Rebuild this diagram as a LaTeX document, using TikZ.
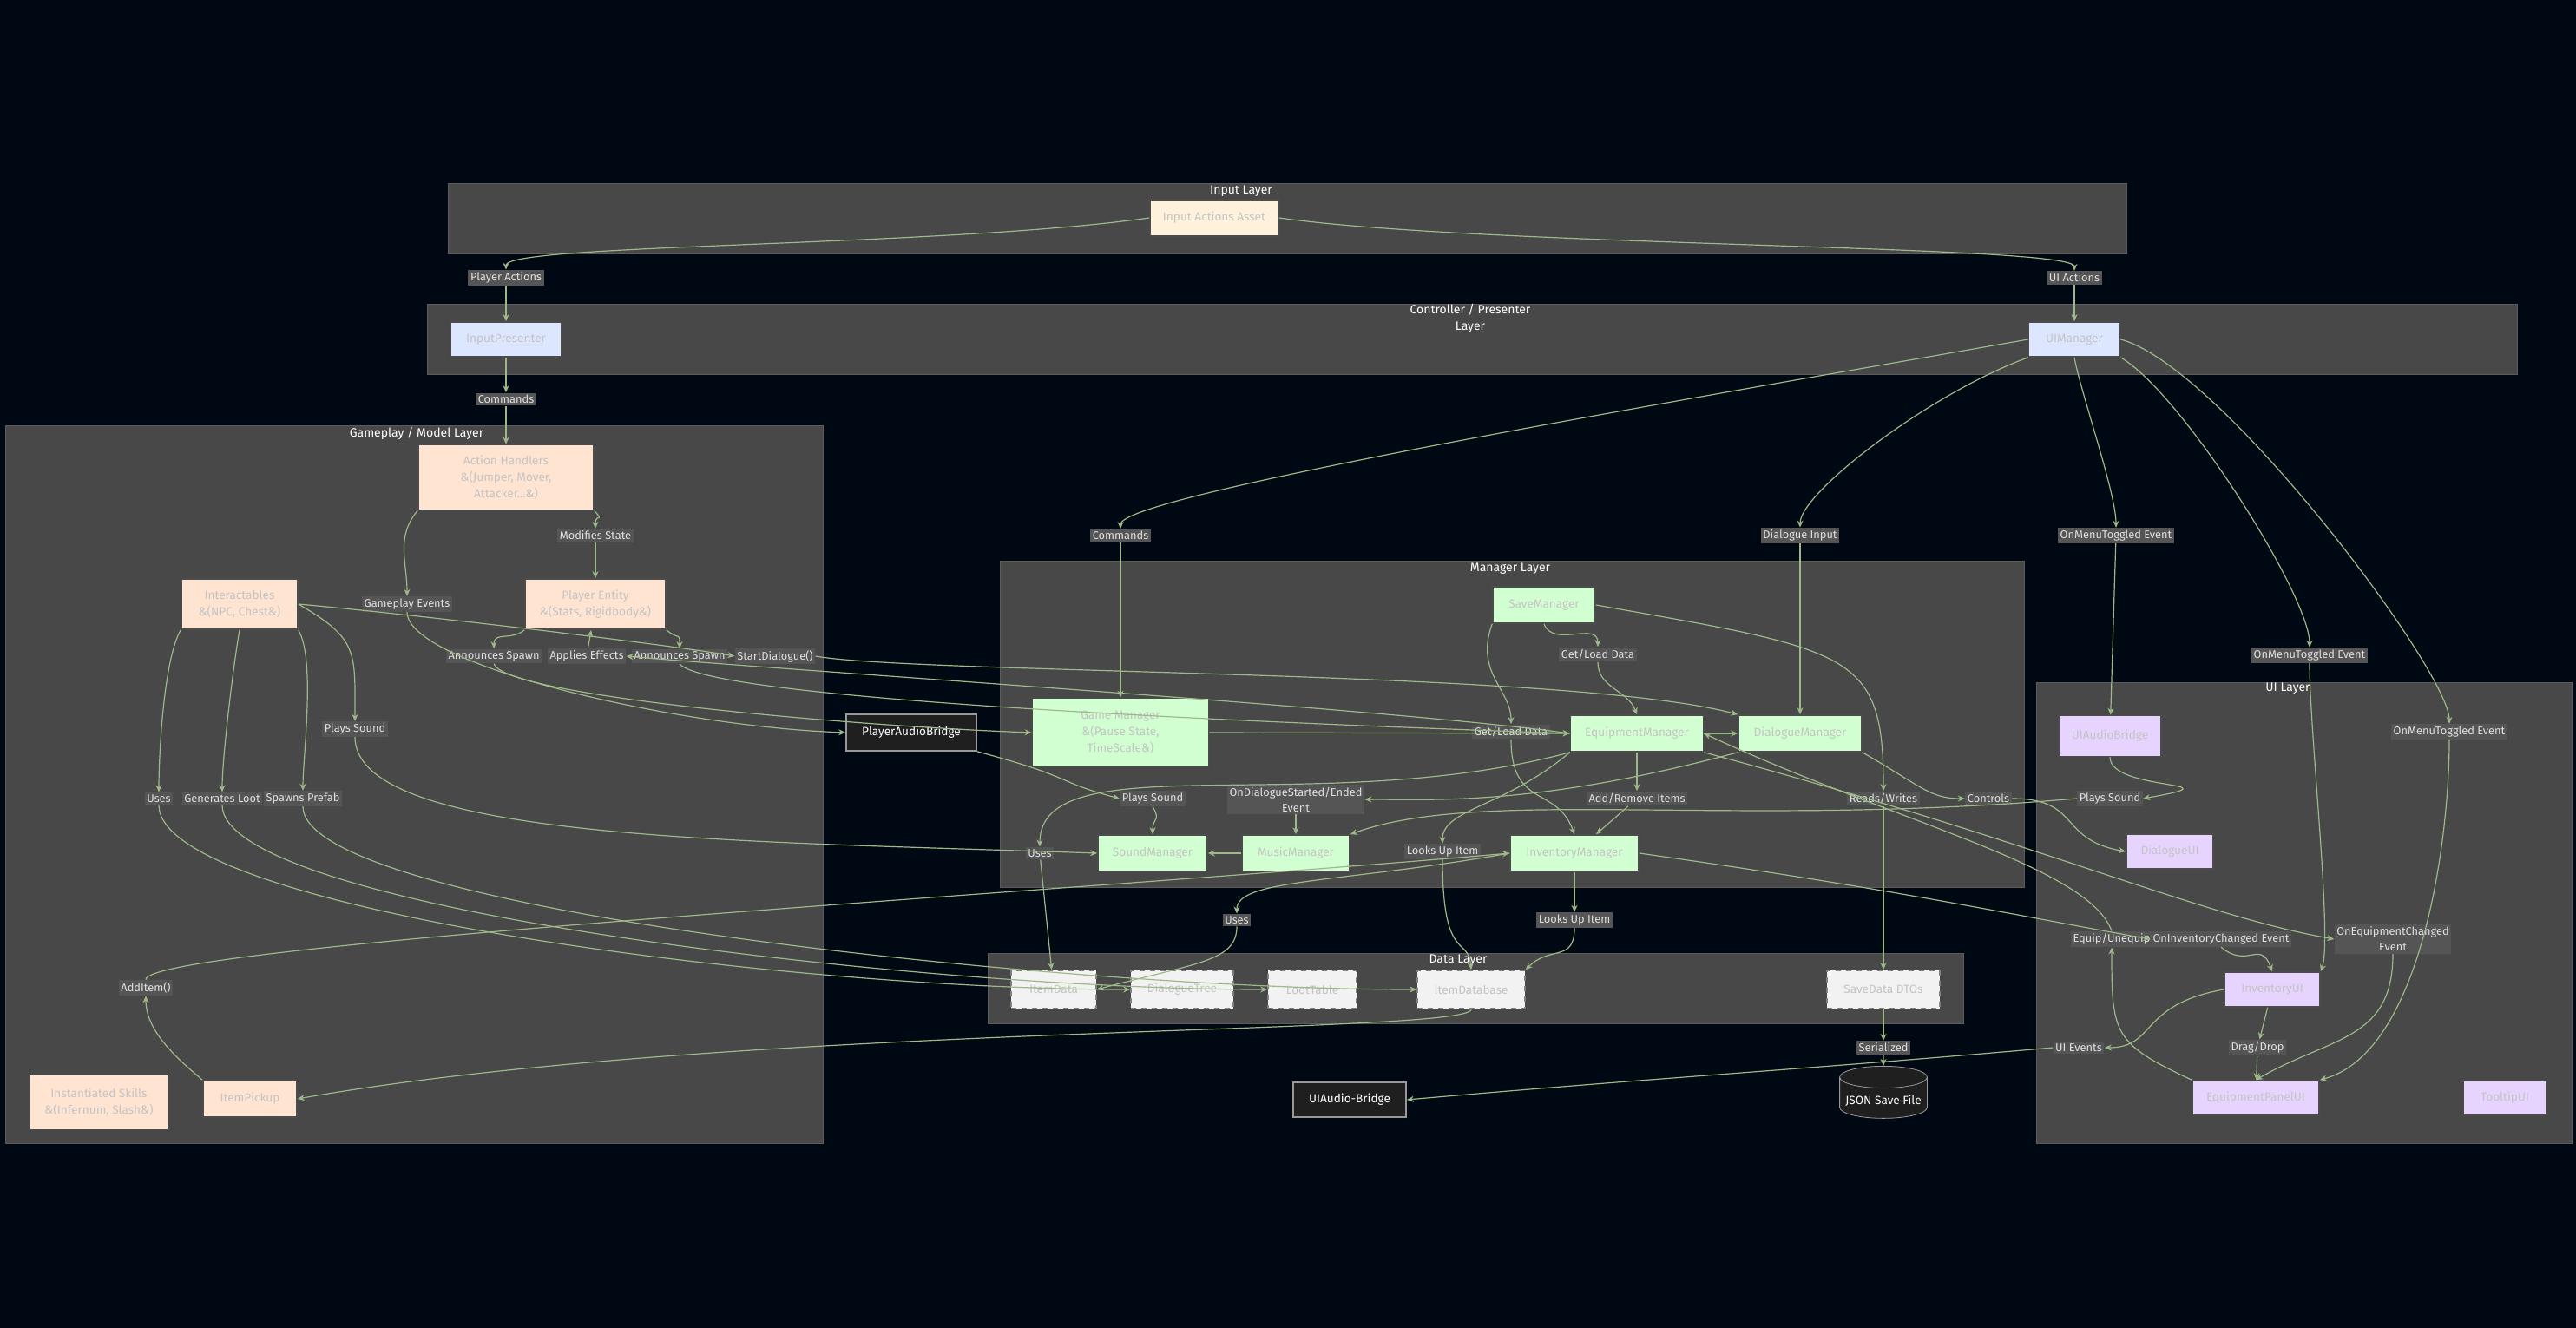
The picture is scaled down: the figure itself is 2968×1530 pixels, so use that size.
\documentclass[tikz,border=0pt]{standalone}
\usepackage{fontspec}
\setmainfont{Fira Sans}
\usetikzlibrary{arrows.meta,shapes.geometric}
\definecolor{bg}{HTML}{000814}
\definecolor{clus}{HTML}{484848}
\definecolor{clusb}{HTML}{5C5C5C}
\definecolor{edgec}{HTML}{9DB98A}
\definecolor{lblf}{HTML}{555555}
\definecolor{ntext}{HTML}{C4C4C4}
\definecolor{cream}{HTML}{FFF2DC}
\definecolor{blueb}{HTML}{DCE6FF}
\definecolor{peach}{HTML}{FFE4D2}
\definecolor{mint}{HTML}{D2FFD2}
\definecolor{lav}{HTML}{E6D4FF}
\definecolor{dgray}{HTML}{F2F2F2}
\definecolor{dark}{HTML}{1F1F1F}
\tikzset{
 bx/.style 2 args={draw=black!70,line width=0.8pt,minimum width={#1*0.5pt},minimum height={#2*0.5pt},inner sep=1pt,text=ntext,font=\fontsize{6.8}{9.5}\selectfont,align=center},
 cr/.style={fill=cream}, bl/.style={fill=blueb}, pc/.style={fill=peach}, mn/.style={fill=mint}, lv/.style={fill=lav},
 dt/.style={fill=dgray,draw=gray,dashed},
 dk/.style={fill=dark,draw=gray!80,text=white},
 lbl/.style={fill=lblf,text=white!88!black,font=\fontsize{6.4}{9}\selectfont,inner sep=1.3pt,align=center},
 e/.style={draw=edgec,line width=0.6pt,-{Stealth[length=4pt,width=3.5pt]}},
 ttl/.style={text=white,font=\fontsize{7}{9.5}\selectfont,align=center},
 od/.style={out distance=#1},
 id/.style={in distance=#1},
}
\begin{document}
\begin{tikzpicture}[x=0.5pt,y=-0.5pt]
\fill[bg] (0,0) rectangle (2968,1530);
\useasboundingbox (0,0) rectangle (2968,1530);
% clusters
\foreach \a/\b/\c/\d in {516/211/2450/292, 492/350/2900/431, 6/490/948/1317, 1152/646/2332/1022, 1138/1098/2262/1179, 2346/786/2963/1317}
  \draw[fill=clus,draw=clusb] (\a,\b) rectangle (\c,\d);
\node[ttl] at (1430,220) {Input Layer};
\node[ttl] at (1694,367) {Controller / Presenter\\Layer};
\node[ttl] at (480,499) {Gameplay / Model Layer};
\node[ttl] at (1740,655) {Manager Layer};
\node[ttl] at (1680,1106) {Data Layer};
\node[ttl] at (2636,793) {UI Layer};
% nodes
\node[bx={148}{42},cr] (iaa) at (1399,251) {Input Actions Asset};
\node[bx={127}{40},bl] (ip) at (583,391) {InputPresenter};
\node[bx={105}{40},bl] (uim) at (2390,391) {UIManager};
\node[bx={202}{75},pc] (ah) at (583,550) {Action Handlers\\\&(Jumper, Mover,\\Attacker...\&)};
\node[bx={134}{58},pc] (inter) at (276,696) {Interactables\\\&(NPC, Chest\&)};
\node[bx={162}{58},pc] (pe) at (686,696) {Player Entity\\\&(Stats, Rigidbody\&)};
\node[bx={160}{63},pc] (skills) at (114,1270) {Instantiated Skills\\\&(Infernum, Slash\&)};
\node[bx={108}{42},pc] (pickup) at (288,1266) {ItemPickup};
\node[bx={150}{42},dk] (pab) at (1050,844) {PlayerAudioBridge};
\node[bx={118}{42},mn] (sm) at (1779,697) {SaveManager};
\node[bx={203}{79},mn] (gm) at (1291,844) {Game Manager\\\&(Pause State,\\TimeScale\&)};
\node[bx={153}{42},mn] (em) at (1886,845) {EquipmentManager};
\node[bx={142}{42},mn] (dm) at (2074,845) {DialogueManager};
\node[bx={126}{42},mn] (sndm) at (1328,983) {SoundManager};
\node[bx={124}{42},mn] (mm) at (1493,983) {MusicManager};
\node[bx={148}{42},mn] (im) at (1814,983) {InventoryManager};
\node[bx={98}{44},dt] (idata) at (1214,1140) {ItemData};
\node[bx={118}{44},dt] (dtree) at (1362,1140) {DialogueTree};
\node[bx={102}{44},dt] (loot) at (1512,1140) {LootTable};
\node[bx={124}{44},dt] (idb) at (1695,1140) {ItemDatabase};
\node[bx={130}{44},dt] (sdto) at (2170,1140) {SaveData DTOs};
\node[bx={130}{40},dk] (uab) at (1555,1267) {UIAudio-Bridge};
\node[cylinder,shape border rotate=90,aspect=0.25,draw=gray!80,fill=dark,text=white,minimum width=47pt,minimum height=30pt,font=\fontsize{6.8}{9}\selectfont] (json) at (2170,1268) {JSON Save File};
\node[bx={118}{47},lv] (uiab) at (2431,848) {UIAudioBridge};
\node[bx={100}{40},lv] (dui) at (2500,981) {DialogueUI};
\node[bx={110}{40},lv] (invui) at (2618,1140) {InventoryUI};
\node[bx={146}{40},lv] (epui) at (2599,1265) {EquipmentPanelUI};
\node[bx={95}{40},lv] (tui) at (2886,1265) {TooltipUI};
% labels
\node[lbl] (lPA) at (583,320) {Player Actions};
\node[lbl] (lUA) at (2390,320) {UI Actions};
\node[lbl] (lCmd1) at (583,460) {Commands};
\node[lbl] (lCmd2) at (1291,617) {Commands};
\node[lbl] (lDI) at (2074,617) {Dialogue Input};
\node[lbl] (lMT1) at (2438,617) {OnMenuToggled Event};
\node[lbl] (lMT2) at (2661,755) {OnMenuToggled Event};
\node[lbl] (lMT3) at (2822,843) {OnMenuToggled Event};
\node[lbl] (lMS) at (686,617) {Modifies State};
\node[lbl] (lGE) at (469,696) {Gameplay Events};
\node[lbl] (lAS1) at (569,756) {Announces Spawn};
\node[lbl] (lAE) at (676,756) {Applies Effects};
\node[lbl] (lAS2) at (783,756) {Announces Spawn};
\node[lbl] (lSD) at (893,756) {StartDialogue()};
\node[lbl] (lGL1) at (1841,754) {Get/Load Data};
\node[lbl] (lGL2) at (1741,843) {Get/Load Data};
\node[lbl] (lARI) at (1886,920) {Add/Remove Items};
\node[lbl] (lPS1) at (1328,920) {Plays Sound};
\node[lbl] (lU2) at (1198,983) {Uses};
\node[lbl] (lOD) at (1493,921) {OnDialogueStarted/Ended\\Event};
\node[lbl] (lPS2) at (2431,920) {Plays Sound};
\node[lbl] (lCtl) at (2291,920) {Controls};
\node[lbl] (lRW) at (2170,920) {Reads/Writes};
\node[lbl] (lSer) at (2170,1207) {Serialized};
\node[lbl] (lLU2) at (1814,1060) {Looks Up Item};
\node[lbl] (lU3) at (1425,1060) {Uses};
\node[lbl] (lLU1) at (1662,981) {Looks Up Item};
\node[lbl] (lOIC) at (2559,1082) {OnInventoryChanged Event};
\node[lbl] (lOEC) at (2757,1082) {OnEquipmentChanged\\Event};
\node[lbl] (lDD) at (2601,1207) {Drag/Drop};
\node[lbl] (lEU) at (2433,1082) {Equip/Unequip};
\node[lbl] (lUIE) at (2395,1207) {UI Events};
\node[lbl] (lU1) at (183,920) {Uses};
\node[lbl] (lGLt) at (256,920) {Generates Loot};
\node[lbl] (lSP) at (349,920) {Spawns Prefab};
\node[lbl] (lPS0) at (409,840) {Plays Sound};
\node[lbl] (lAI) at (168,1138) {AddItem()};
% edges
\draw[e] (iaa.west) to[out=188,in=90,od=120pt,id=15pt] (lPA.north);
\draw[e] (lPA) -- (ip);
\draw[e] (iaa.east) to[out=-8,in=90,od=120pt,id=15pt] (lUA.north);
\draw[e] (lUA) -- (uim);
\draw[e] (ip) -- (lCmd1);
\draw[e] (lCmd1) -- (ah);
\draw[e] (uim.west) to[out=190,in=90,od=180pt,id=20pt] (lCmd2.north);
\draw[e] (lCmd2) -- (gm);
\draw[e] (uim.south west) to[out=200,in=90,od=60pt,id=20pt] (lDI.north);
\draw[e] (lDI) -- (dm);
\draw[e] (uim.south) to[out=-80,in=90,od=20pt,id=20pt] (lMT1.north);
\draw[e] (lMT1) -- (uiab);
\draw[e] (uim.south east) to[out=-30,in=90,od=40pt,id=30pt] (lMT2.north);
\draw[e] (lMT2.south) to[out=-90,in=70,od=40pt,id=20pt] (invui.north east);
\draw[e] (uim.east) to[out=-15,in=90,od=60pt,id=30pt] (lMT3.north);
\draw[e] (lMT3.south) to[out=-90,in=15,od=60pt,id=60pt] (epui.north east);
\draw[e] (ah.south east) to[out=-50,in=90,od=10pt,id=10pt] (lMS.north);
\draw[e] (lMS) -- (pe);
\draw[e] (ah.south west) to[out=-130,in=90,od=20pt,id=20pt] (lGE.north);
\draw[e] (lGE.south) to[out=-90,in=178,od=30pt,id=100pt] (pab.west);
\draw[e] (pe.south west) to[out=-140,in=90,od=10pt,id=10pt] (lAS1.north);
\draw[e] (lAS1.south) to[out=-70,in=178,od=20pt,id=100pt] (gm.west);
\draw[e] (em.west) to[out=172,in=-5,od=100pt,id=100pt] (lAE.east);
\draw[e] (lAE) -- (pe);
\draw[e] (pe.south east) to[out=-40,in=90,od=10pt,id=10pt] (lAS2.north);
\draw[e] (lAS2.south) to[out=-50,in=178,od=30pt,id=100pt] (em.west);
\draw[e] (inter.east) to[out=-5,in=170,od=60pt,id=40pt] (lSD.west);
\draw[e] (lSD.east) to[out=-10,in=165,od=60pt,id=100pt] (dm.north west);
\draw[e] (sm.south) to[out=-70,in=90,od=15pt,id=15pt] (lGL1.north);
\draw[e] (lGL1.south) to[out=-90,in=110,od=15pt,id=15pt] (em.north);
\draw[e] (sm.south west) to[out=-110,in=90,od=30pt,id=20pt] (lGL2.north);
\draw[e] (lGL2.south) to[out=-90,in=110,od=40pt,id=30pt] (im.north);
\draw[e] (gm.east) -- (em.west);
\draw[e] (em) -- (dm);
\draw[e] (em.south) to[out=-90,in=90,od=15pt,id=15pt] (lARI.north);
\draw[e] (lARI) -- (im);
\draw[e] (pab.south east) to[out=-15,in=165,od=60pt,id=40pt] (lPS1.west);
\draw[e] (lPS1.south) to[out=-60,in=90,od=10pt,id=10pt] (sndm.north);
\draw[e] (em.south west) to[out=195,in=90,od=150pt,id=60pt] (lU2.north);
\draw[e] (lU2) -- (idata);
\draw[e] (dm.south west) to[out=195,in=0,od=120pt,id=40pt] (lOD.east);
\draw[e] (lOD) -- (mm);
\draw[e] (mm) -- (sndm);
\draw[e] (uiab.south) to[out=-90,in=10,od=20pt,id=60pt] (lPS2.east);
\draw[e] (lPS2.west) to[out=185,in=20,od=200pt,id=80pt] (mm.north east);
\draw[e] (dm.south east) to[out=-30,in=180,od=40pt,id=20pt] (lCtl.west);
\draw[e] (lCtl.east) to[out=0,in=170,od=40pt,id=40pt] (dui.west);
\draw[e] (sm.east) to[out=-10,in=90,od=150pt,id=80pt] (lRW.north);
\draw[e] (lRW) -- (sdto);
\draw[e] (sdto) -- (lSer);
\draw[e] (lSer) -- (json);
\draw[e] (im) -- (lLU2);
\draw[e] (lLU2.south) to[out=-90,in=45,od=20pt,id=20pt] (idb.north east);
\draw[e] (im.west) to[out=190,in=90,od=100pt,id=20pt] (lU3.north);
\draw[e] (lU3.south) to[out=-90,in=15,od=20pt,id=60pt] (idata.east);
\draw[e] (em.south west) to[out=-140,in=90,od=50pt,id=20pt] (lLU1.north);
\draw[e] (lLU1.south) to[out=-90,in=95,od=60pt,id=20pt] (idb.north);
\draw[e] (im.east) to[out=-8,in=170,od=150pt,id=80pt] (lOIC.west);
\draw[e] (lOIC.south) to[out=-40,in=110,od=20pt,id=20pt] (invui.north);
\draw[e] (em.south east) to[out=-15,in=170,od=200pt,id=80pt] (lOEC.west);
\draw[e] (lOEC.south) to[out=-90,in=30,od=50pt,id=50pt] (epui.north);
\draw[e] (invui) -- (lDD);
\draw[e] (lDD) -- (epui);
\draw[e] (epui.north west) to[out=155,in=-90,od=50pt,id=50pt] (lEU.south);
\draw[e] (lEU.north) to[out=110,in=-25,od=40pt,id=120pt] (em.east);
\draw[e] (invui.west) to[out=190,in=0,od=50pt,id=30pt] (lUIE.east);
\draw[e] (lUIE.west) to[out=185,in=5,od=150pt,id=150pt] (uab.east);
\draw[e] (inter.south west) to[out=-120,in=90,od=20pt,id=20pt] (lU1.north);
\draw[e] (lU1.south) to[out=-90,in=180,od=60pt,id=200pt] (dtree.west);
\draw[e] (inter.south) to[out=-100,in=90,od=20pt,id=20pt] (lGLt.north);
\draw[e] (lGLt.south) to[out=-90,in=180,od=60pt,id=200pt] (loot.west);
\draw[e] (inter.south east) to[out=-60,in=90,od=20pt,id=20pt] (lSP.north);
\draw[e] (lSP.south) to[out=-90,in=180,od=60pt,id=200pt] (idb.west);
\draw[e] (inter.east) to[out=-30,in=90,od=40pt,id=40pt] (lPS0.north);
\draw[e] (lPS0.south) to[out=-90,in=178,od=60pt,id=200pt] (sndm.west);
\draw[e] (pickup.north west) to[out=140,in=-90,od=20pt,id=20pt] (lAI.south);
\draw[e] (lAI.north) to[out=90,in=185,od=20pt,id=250pt] (im.west);
\draw[e] (idb.south) to[out=-90,in=10,od=15pt,id=250pt] (pickup.east);
\end{tikzpicture}
\end{document}
